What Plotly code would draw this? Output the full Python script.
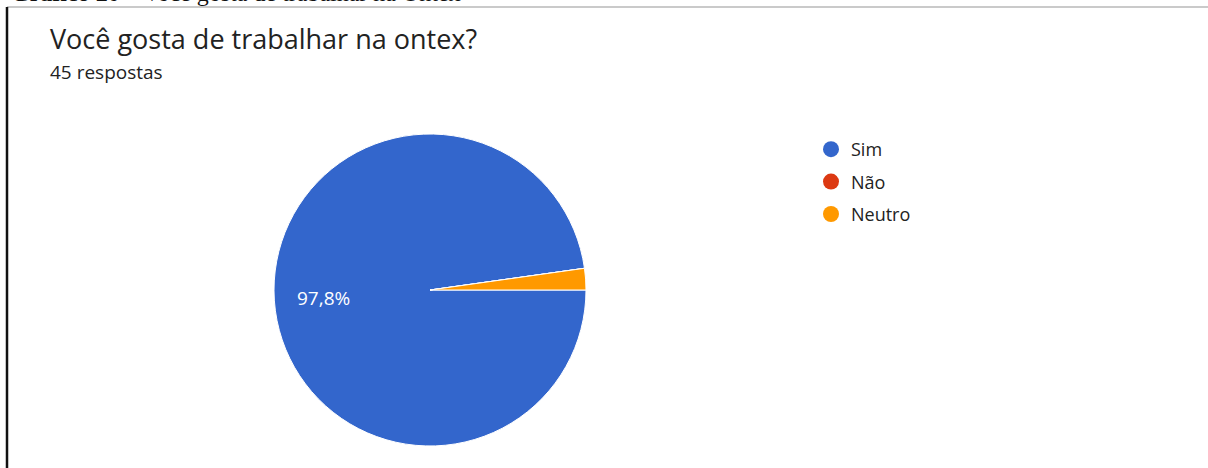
import plotly.graph_objects as go

labels = ["Sim", "Não", "Neutro"]
values = [44, 0, 1]
colors = ["#3366CC", "#DC3912", "#FF9900"]
title = "Você gosta de trabalhar na ontex?"
subtitle = "45 respostas"
caption_bold = "Gráfico 20"
caption_rest = " – Você gosta de trabalhar na Ontex"

W, H = 1208, 468
def px(x): return x / W
def py(y): return 1 - y / H

FONT = "Open Sans"
total = sum(values)
pct_main = f"{values[0] / total * 100:.1f}%".replace(".", ",")

fig = go.Figure()
fig.add_trace(go.Pie(
    labels=labels, values=values, sort=False, direction="clockwise", rotation=90,
    marker=dict(colors=colors, line=dict(color="white", width=1)),
    textinfo="none", showlegend=False,
    domain=dict(x=[px(274), px(586)], y=[py(446), py(134)]),
    hoverinfo="label+percent",
))
for i, (lab, col) in enumerate(zip(labels, colors)):
    fig.add_trace(go.Scatter(
        x=[None], y=[None], mode="markers", name=lab, legendgroup=f"g{i}",
        marker=dict(symbol="circle", size=20, color=col), showlegend=True,
    ))

fig.update_layout(
    width=W, height=H, margin=dict(l=0, r=0, t=0, b=0),
    paper_bgcolor="white", plot_bgcolor="white",
    xaxis=dict(visible=False), yaxis=dict(visible=False),
    showlegend=True,
    legend=dict(x=px(811), y=py(131), xanchor="left", yanchor="top",
                font=dict(family=FONT, size=18, color="#222222"),
                itemsizing="trace", tracegroupgap=6, bgcolor="rgba(0,0,0,0)"),
    shapes=[
        dict(type="line", xref="paper", yref="paper", x0=px(7), x1=1, y0=py(7), y1=py(7),
             line=dict(color="#b8b8b8", width=1.5)),
        dict(type="line", xref="paper", yref="paper", x0=px(7), x1=px(7), y0=py(7), y1=0,
             line=dict(color="#111111", width=2.5)),
    ],
    annotations=[
        dict(text=f"<b>{caption_bold}</b>{caption_rest}", x=px(10), y=py(7.5), xref="paper", yref="paper",
             xanchor="left", yanchor="bottom", showarrow=False, borderpad=0,
             font=dict(family="Liberation Serif", size=24, color="#111111")),
        dict(text=title, x=px(48), y=py(38), xref="paper", yref="paper",
             xanchor="left", yanchor="middle", showarrow=False,
             font=dict(family=FONT, size=27, color="#222222")),
        dict(text=subtitle, x=px(48), y=py(72), xref="paper", yref="paper",
             xanchor="left", yanchor="middle", showarrow=False,
             font=dict(family=FONT, size=19, color="#222222")),
        dict(text=pct_main, x=px(323), y=py(298), xref="paper", yref="paper",
             xanchor="center", yanchor="middle", showarrow=False,
             font=dict(family=FONT, size=19, color="white")),
    ],
)

fig.write_html("out.html")
